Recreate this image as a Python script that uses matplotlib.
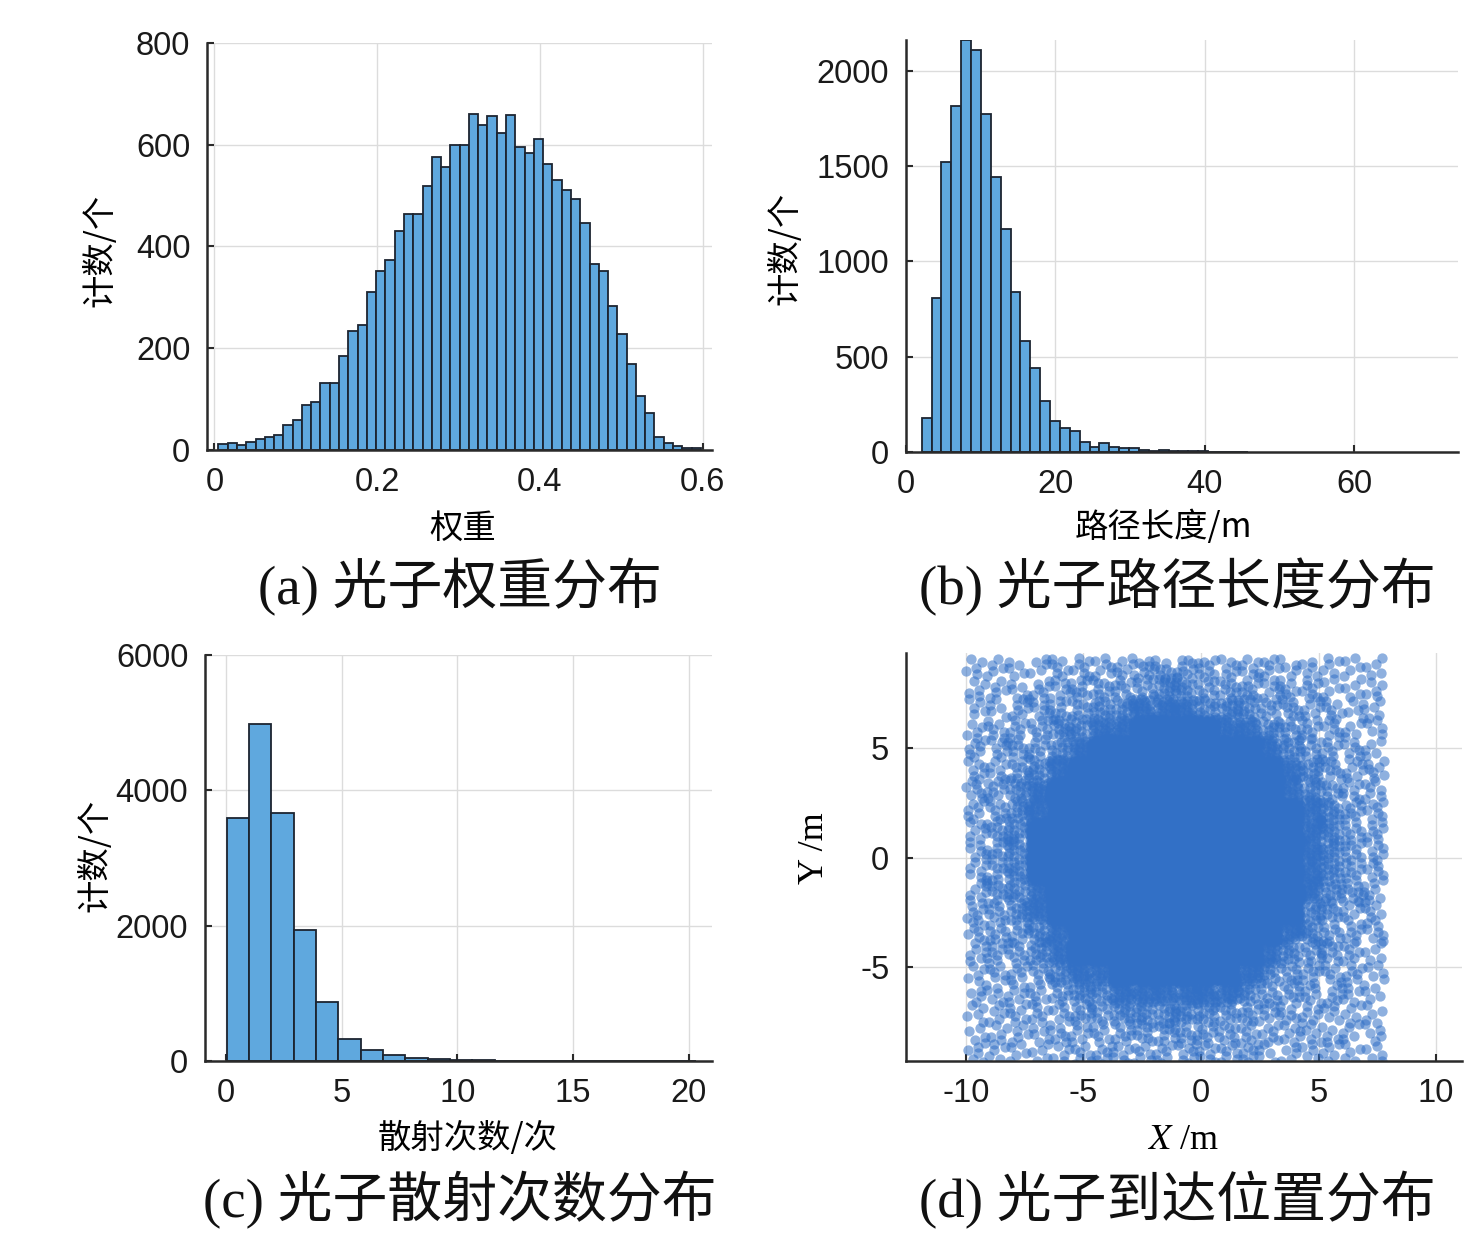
import numpy as np
import matplotlib
matplotlib.use("Agg")
import matplotlib.pyplot as plt

plt.rcParams['font.family'] = ['Liberation Sans', 'Noto Sans CJK SC', 'DejaVu Sans']
plt.rcParams['axes.unicode_minus'] = False
plt.rcParams['mathtext.fontset'] = 'stix'

# ---------------- data ----------------
# (a) photon weight histogram
a_bin_start = 0.005
a_bin_width = 0.0114
a_counts = [12, 14, 9, 15, 22, 25, 30, 50, 59, 89,
            94, 131, 131, 184, 233, 245, 311, 351, 374, 430,
            463, 463, 518, 576, 557, 599, 599, 660, 638, 656,
            623, 658, 595, 584, 611, 563, 530, 511, 494, 447,
            365, 351, 284, 228, 169, 107, 72, 26, 13, 7, 3, 3]
a_xticks = [0, 0.2, 0.4, 0.6]
a_xticklabels = ['0', '0.2', '0.4', '0.6']
a_yticks = [0, 200, 400, 600, 800]

# (b) path length histogram
b_bin_start = 2.1
b_bin_width = 1.322
b_counts = [179, 805, 1521, 1814, 2160, 2105, 1772, 1442, 1170, 837,
            582, 438, 270, 165, 125, 112, 50, 28, 45, 26,
            19, 22, 10, 7, 9, 4, 5, 7, 3, 1, 1, 0, 1]
b_xticks = [0, 20, 40, 60]
b_yticks = [0, 500, 1000, 1500, 2000]

# (c) scattering count histogram
c_bin_start = 0.03
c_bin_width = 0.965
c_counts = [3587, 4973, 3671, 1936, 870, 324, 157, 88, 44, 25,
            12, 8, 5, 4, 3, 2, 2, 1, 1, 1, 1]
c_xticks = [0, 5, 10, 15, 20]
c_yticks = [0, 2000, 4000, 6000]

# (d) arrival positions: density level of photons per grid cell
#     (20 rows top->bottom over y, 20 columns left->right over x)
d_x_range = (-10.0, 7.8)
d_y_range = (-9.4, 9.1)
d_level_map = [
    "11112 22233 33222 11111",
    "11122 33334 43332 22111",
    "11223 34455 54443 32211",
    "12234 45566 66554 33211",
    "22334 56677 77665 43221",
    "22345 67777 77766 54322",
    "23456 77777 77776 54322",
    "23456 77777 77777 65432",
    "23467 77777 77777 65432",
    "23467 77777 77777 65432",
    "23467 77777 77777 65432",
    "23456 77777 77777 65432",
    "23456 77777 77776 64322",
    "23345 67777 77776 54322",
    "22345 66777 77765 43321",
    "12234 55666 66654 33221",
    "11223 44555 55543 32211",
    "11222 33444 44333 22111",
    "11112 22333 33322 21111",
    "11111 22222 22221 11111",
]
d_level_counts = {1: 5, 2: 7, 3: 9, 4: 14, 5: 26, 6: 70, 7: 110}
d_xticks = [-10, -5, 0, 5, 10]
d_yticks = [-5, 0, 5]

captions = ['(a) 光子权重分布', '(b) 光子路径长度分布', '(c) 光子散射次数分布', '(d) 光子到达位置分布']

# ---------------- styling ----------------
W, H = 1478, 1238
fig = plt.figure(figsize=(W / 100, H / 100), dpi=100)
fig.patch.set_facecolor('white')

BAR_FACE = '#5fa8de'
BAR_EDGE = '#1c2430'
SCAT = '#3270c6'
TICK_FS = 23.5
LABEL_FS = 24
CAP_FS = 39.5
cjk = ['Noto Sans CJK SC', 'DejaVu Sans']
cap_fam = ['Liberation Serif', 'Noto Sans CJK SC']


def px_axes(l, r, t, b):
    return fig.add_axes([l / W, 1 - b / H, (r - l) / W, (b - t) / H])


def style(ax):
    for s in ('top', 'right'):
        ax.spines[s].set_visible(False)
    for s in ('left', 'bottom'):
        ax.spines[s].set_color('#2a2a2a')
        ax.spines[s].set_linewidth(1.8)
    ax.grid(True, color='#dcdcdc', linewidth=1.0)
    ax.set_axisbelow(True)
    ax.tick_params(direction='in', length=5, width=1.5, color='#2a2a2a',
                   labelsize=TICK_FS, labelcolor='#1a1a1a', pad=12)


def hist_bars(ax, start, width, counts):
    counts = np.asarray(counts, dtype=float)
    lefts = start + width * np.arange(len(counts))
    ax.bar(lefts, counts, width=width, align='edge', color=BAR_FACE,
           edgecolor=BAR_EDGE, linewidth=1.3, zorder=2)


# (a)
ax_a = px_axes(207, 712, 43, 450)
style(ax_a)
hist_bars(ax_a, a_bin_start, a_bin_width, a_counts)
ax_a.set_xlim(-0.009, 0.6115)
ax_a.set_ylim(0, 800)
ax_a.set_xticks(a_xticks)
ax_a.set_xticklabels(a_xticklabels)
ax_a.set_yticks(a_yticks)
ax_a.set_xlabel('权重', fontsize=LABEL_FS, family=cjk)
ax_a.set_ylabel('计数/个', fontsize=LABEL_FS, family=cjk)
ax_a.xaxis.set_label_coords(0.507, -0.192)
ax_a.yaxis.set_label_coords(-0.212, 0.491)

# (b)
ax_b = px_axes(906, 1458, 40, 452)
style(ax_b)
hist_bars(ax_b, b_bin_start, b_bin_width, b_counts)
ax_b.set_xlim(0, 73.9)
ax_b.set_ylim(0, 2160)
ax_b.set_xticks(b_xticks)
ax_b.set_yticks(b_yticks)
ax_b.set_xlabel('路径长度/m', fontsize=LABEL_FS, family=cjk)
ax_b.set_ylabel('计数/个', fontsize=LABEL_FS, family=cjk)
ax_b.xaxis.set_label_coords(0.466, -0.184)
ax_b.yaxis.set_label_coords(-0.219, 0.495)

# (c)
ax_c = px_axes(205, 712, 655, 1061)
style(ax_c)
hist_bars(ax_c, c_bin_start, c_bin_width, c_counts)
ax_c.set_xlim(-0.9, 21.0)
ax_c.set_ylim(0, 6000)
ax_c.set_xticks(c_xticks)
ax_c.set_yticks(c_yticks)
ax_c.set_xlabel('散射次数/次', fontsize=LABEL_FS, family=cjk)
ax_c.set_ylabel('计数/个', fontsize=LABEL_FS, family=cjk)
ax_c.xaxis.set_label_coords(0.519, -0.19)
ax_c.yaxis.set_label_coords(-0.217, 0.507)

# (d)
ax_d = px_axes(906, 1462, 653, 1061)
style(ax_d)
levels = np.array([[int(ch) for ch in row.replace(' ', '')] for row in d_level_map])
nr, nc = levels.shape
cw = (d_x_range[1] - d_x_range[0]) / nc
chh = (d_y_range[1] - d_y_range[0]) / nr
g = 1.32471795724474602596
al1, al2 = 1.0 / g, 1.0 / g ** 2
xs, ys = [], []
k0 = 0
for r in range(nr):
    for c in range(nc):
        n = d_level_counts[int(levels[r, c])]
        k = np.arange(k0, k0 + n)
        u = (0.5 + al1 * k) % 1.0
        v = (0.5 + al2 * k) % 1.0
        xs.append(d_x_range[0] + (c + u) * cw)
        ys.append(d_y_range[1] - (r + v) * chh)
        k0 += n
xs = np.concatenate(xs)
ys = np.concatenate(ys)
ax_d.scatter(xs, ys, s=55, c=SCAT, alpha=0.55, linewidths=0, zorder=2)
ax_d.set_xlim(-12.54, 11.1)
ax_d.set_ylim(-9.27, 9.32)
ax_d.set_xticks(d_xticks)
ax_d.set_yticks(d_yticks)
ax_d.set_xlabel(r'$X$ /m', fontsize=LABEL_FS + 2, family='Liberation Serif')
ax_d.set_ylabel('Y /m', fontsize=LABEL_FS + 2, family='Liberation Serif')
ax_d.xaxis.set_label_coords(0.498, -0.194)
ax_d.yaxis.set_label_coords(-0.164, 0.522)

for ax in (ax_a, ax_b, ax_c, ax_d):
    ax.xaxis.label.set_va('center')
    ax.yaxis.label.set_va('center')
    ax.yaxis.label.set_ha('center')

# captions
cap_pos = [(460, 587), (1177, 587), (460, 1200), (1177, 1200)]
for txt, (cx, cy) in zip(captions, cap_pos):
    fig.text(cx / W, 1 - cy / H, txt, ha='center', va='center',
             fontsize=CAP_FS, family=cap_fam, color='#111111')

fig.savefig('out.png', dpi=100, facecolor='white')
